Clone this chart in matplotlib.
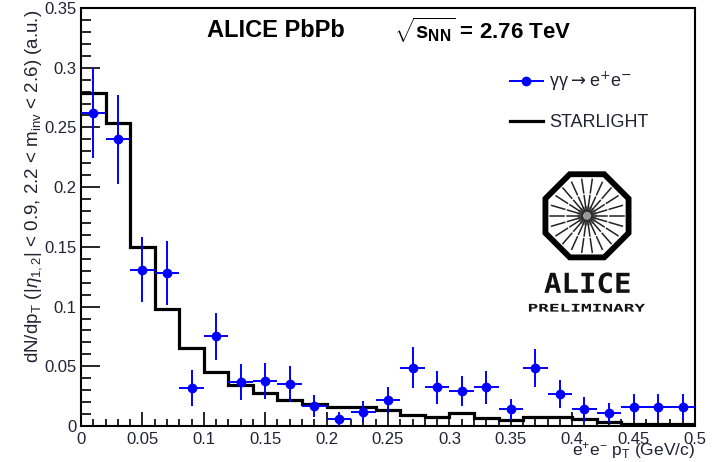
import numpy as np
import matplotlib
matplotlib.use("Agg")
from matplotlib import pyplot as plt
from matplotlib.patches import RegularPolygon, Circle, PathPatch
from matplotlib.textpath import TextPath
from matplotlib.font_manager import FontProperties
from matplotlib.transforms import Affine2D
from matplotlib.lines import Line2D

plt.rcParams['font.family'] = ['Liberation Sans', 'DejaVu Sans']
plt.rcParams['mathtext.fontset'] = 'custom'
plt.rcParams['mathtext.rm'] = 'Liberation Sans'
plt.rcParams['mathtext.it'] = 'Liberation Sans:italic'
plt.rcParams['mathtext.bf'] = 'Liberation Sans:bold'

# data: gamma gamma -> e+e- points (bin centres, values, errors)
pt_centres = np.arange(0.01, 0.5, 0.02)
data_vals = [0.262, 0.240, 0.131, 0.128, 0.032, 0.075, 0.037, 0.038, 0.035,
             0.0167, 0.0056, 0.012, 0.0218, 0.0489, 0.0324, 0.0296, 0.0324,
             0.014, 0.0483, 0.0268, 0.014, 0.0112, 0.0162, 0.0162, 0.0162]
data_errs = [0.038, 0.037, 0.027, 0.027, 0.015, 0.020, 0.015, 0.015, 0.015,
             0.0093, 0.0064, 0.009, 0.0106, 0.017, 0.014, 0.0125, 0.014,
             0.009, 0.016, 0.012, 0.0106, 0.0084, 0.011, 0.011, 0.011]
bin_half = 0.01

# STARLIGHT histogram
sl_edges = np.linspace(0, 0.5, 26)
sl_vals = [0.279, 0.254, 0.150, 0.098, 0.065, 0.045, 0.034, 0.028, 0.022,
           0.0188, 0.016, 0.016, 0.0134, 0.0092, 0.0073, 0.0106, 0.0064,
           0.005, 0.0073, 0.0073, 0.0056, 0.0036, 0.002, 0.002, 0.002]

W, H = 714, 462
fig = plt.figure(figsize=(W / 100, H / 100), dpi=100)
ax = fig.add_axes([81 / W, 1 - 426 / H, (695 - 81) / W, (426 - 8) / H])

ax.stairs(sl_vals, sl_edges, color='black', lw=2.3, baseline=None, zorder=2)
ax.errorbar(pt_centres, data_vals, yerr=data_errs, xerr=bin_half, fmt='o',
            color='#0000ff', ms=6, elinewidth=1.4, capsize=0, zorder=3)

ax.set_xlim(0, 0.5)
ax.set_ylim(0, 0.35)
ax.set_xticks(np.arange(0, 0.501, 0.05))
ax.set_xticklabels(['0', '0.05', '0.1', '0.15', '0.2', '0.25', '0.3', '0.35',
                    '0.4', '0.45', '0.5'])
ax.set_yticks(np.arange(0, 0.351, 0.05))
ax.set_yticklabels(['0', '0.05', '0.1', '0.15', '0.2', '0.25', '0.3', '0.35'])
ax.set_xticks(np.arange(0, 0.501, 0.01), minor=True)
ax.set_yticks(np.arange(0, 0.351, 0.01), minor=True)
ax.tick_params(axis='both', which='both', direction='in', labelsize=12,
               labelcolor='#222233', color='black', width=1.2)
ax.tick_params(axis='y', which='major', length=14, pad=3)
ax.tick_params(axis='y', which='minor', length=7)
ax.tick_params(axis='x', which='major', length=10, pad=4)
ax.tick_params(axis='x', which='minor', length=5)
for s in ax.spines.values():
    s.set_linewidth(1.5)

ax.text(-0.078, 0.574,
        r"dN/dp$_{\rm T}$ (|$\eta_{1,2}$| < 0.9, 2.2 < m$_{\rm inv}$ < 2.6) (a.u.)",
        rotation=90, ha='center', va='center', fontsize=13.5,
        color='#222233', transform=ax.transAxes)
ax.text(1.0, -0.034, r"e$^{+}$e$^{-}$ p$_{\rm T}$ (GeV/c)", ha='right',
        va='top', fontsize=12.5, color='#222233', transform=ax.transAxes)

ax.text(0.205, 0.947, "ALICE PbPb", fontsize=17, fontweight='bold',
        ha='left', va='center', transform=ax.transAxes)
ax.text(0.509, 0.947, r"$\sqrt{\mathbf{s}_{\mathbf{NN}}}$ = 2.76 TeV",
        fontsize=16, fontweight='bold', ha='left', va='center',
        transform=ax.transAxes)

handles = [Line2D([], [], color='#0000ff', marker='o', ms=6, lw=1.4),
           Line2D([], [], color='black', lw=2.3)]
labels = [r"γγ$\rightarrow$e$^{+}$e$^{-}$", "STARLIGHT"]
leg_font = FontProperties(family=['Liberation Sans', 'DejaVu Sans'], size=13,
                          math_fontfamily='dejavusans')
ax.legend(handles, labels, loc='upper left', bbox_to_anchor=(0.699, 0.852),
          frameon=False, prop=leg_font, handlelength=1.8, handletextpad=0.35,
          labelspacing=1.15, borderpad=0, borderaxespad=0,
          labelcolor='#222233')

# ALICE preliminary logo in its own small axes
lax = fig.add_axes([527 / W, 1 - 315 / H, 120 / W, 150 / H])
lax.set_ylim(-2.05, 1.05)
lax.set_xlim(-1.24, 1.24)
lax.set_aspect('equal')
lax.axis('off')
lax.add_patch(RegularPolygon((0, 0), 8, radius=0.93, orientation=np.pi / 8,
                             fill=False, ec='black', lw=4.2))
lax.add_patch(Circle((0, 0), 0.2, color='#9a9a9a', lw=0))
for a in np.linspace(0, 2 * np.pi, 22, endpoint=False):
    for r0, r1 in [(0.1, 0.42), (0.48, 0.76)]:
        lax.plot([r0 * np.cos(a), r1 * np.cos(a)],
                 [r0 * np.sin(a), r1 * np.sin(a)], color='#222222', lw=1.1)


def fit_text(text, x0, y0, w, h, weight='bold'):
    tp = TextPath((0, 0), text, size=1,
                  prop=FontProperties(family='DejaVu Sans Mono', weight=weight))
    bb = tp.get_extents()
    tr = Affine2D().translate(-bb.x0, -bb.y0).scale(w / bb.width, h / bb.height)
    tr = tr.translate(x0, y0)
    lax.add_patch(PathPatch(tr.transform_path(tp), color='#111111', lw=0))


fit_text("ALICE", -0.88, -1.6, 1.76, 0.43, weight='bold')
fit_text("PRELIMINARY", -1.2, -1.98, 2.4, 0.16, weight='bold')

fig.savefig('out.png', dpi=100)
